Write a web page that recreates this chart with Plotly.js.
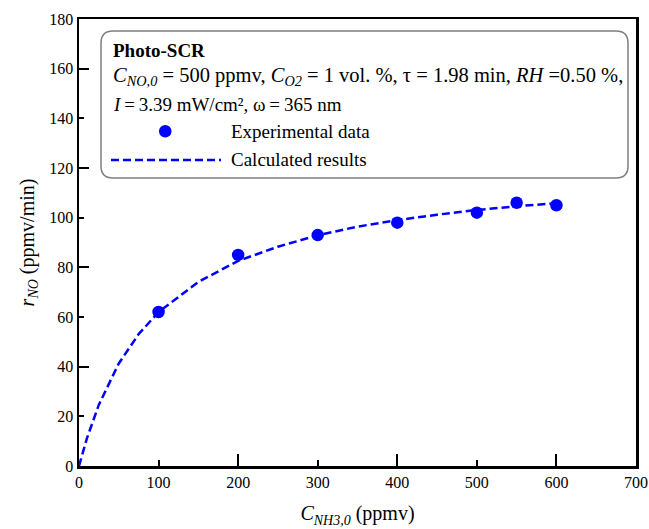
<!DOCTYPE html>
<html>
<head>
<meta charset="utf-8">
<script src="https://cdn.plot.ly/plotly-3.0.1.min.js"></script>
<style>html,body{margin:0;padding:0;background:#fff;}#chart{width:649px;height:529px;}</style>
</head>
<body>
<div id="chart"></div>
<script>
const expX = [100, 200, 300, 400, 500, 550, 600];
const expY = [62, 85, 93, 98, 102, 106, 105];
// Calculated results curve
const calcX = [0, 10, 25, 50, 75, 100, 150, 200, 250, 300, 350, 400, 450, 500, 550, 600];
const calcY = [0, 11.2, 24.7, 41.3, 53.1, 62, 74.1, 82.6, 88.3, 92.9, 96.4, 99.0, 101.2, 103.1, 104.6, 105.8];
const xTicks = [0, 100, 200, 300, 400, 500, 600, 700];
const yTicks = [0, 20, 40, 60, 80, 100, 120, 140, 160, 180];

const FONT = 'Liberation Serif';
const BLUE = '#0000ff';

const traces = [
  {x: calcX, y: calcY, mode: 'lines', xaxis: 'x2', yaxis: 'y2',
   line: {color: BLUE, width: 2.5, dash: '8px,4px'}, hoverinfo: 'skip', showlegend: false},
  {x: expX, y: expY, mode: 'markers',
   marker: {color: BLUE, size: 12.5}, showlegend: false}
];

const W = 649, H = 529;
const L = 79, R = 13, T = 19, B = 63;
const pw = W - L - R, ph = H - T - B;
function px(x) { return (x - L) / pw; }
function py(y) { return 1 - (y - T) / ph; }

// rounded legend box in paper coords
const bx0 = 101, bx1 = 628, by0 = 31, by1 = 178, rr = 12;
function P(x, y) { return px(x).toFixed(5) + ',' + py(y).toFixed(5); }
const boxPath = 'M' + P(bx0 + rr, by0) + ' L' + P(bx1 - rr, by0) + ' Q' + P(bx1, by0) + ' ' + P(bx1, by0 + rr) +
  ' L' + P(bx1, by1 - rr) + ' Q' + P(bx1, by1) + ' ' + P(bx1 - rr, by1) +
  ' L' + P(bx0 + rr, by1) + ' Q' + P(bx0, by1) + ' ' + P(bx0, by1 - rr) +
  ' L' + P(bx0, by0 + rr) + ' Q' + P(bx0, by0) + ' ' + P(bx0 + rr, by0) + ' Z';

const shapes = [
  {type: 'path', xref: 'paper', yref: 'paper', path: boxPath, line: {color: '#7f7f7f', width: 1.5}, fillcolor: 'rgba(0,0,0,0)'},
  {type: 'line', xref: 'paper', yref: 'paper', x0: px(111), x1: px(221), y0: py(160), y1: py(160), line: {color: BLUE, width: 2.5, dash: '8px,4px'}},
  {type: 'circle', xref: 'paper', yref: 'paper', x0: px(159), x1: px(171.5), y0: py(125), y1: py(137.5), line: {color: BLUE, width: 0}, fillcolor: BLUE}
];

function ann(text, x, y, opts) {
  return Object.assign({text: text, xref: 'paper', yref: 'paper', x: px(x), y: py(y), xanchor: 'left', yanchor: 'middle',
    showarrow: false, font: {family: FONT, size: 19, color: '#000'}}, opts || {});
}
const S = '\u2009';
const annotations = [
  ann('<b>Photo-SCR</b>', 111, 51),
  ann('<i>C</i><sub><i>NO,0</i></sub> = 500 ppmv, <i>C</i><sub><i>O2</i></sub> = 1 vol. %, τ = 1.98 min, <i>RH</i> =0.50 %,', 111, 77, {font: {family: FONT, size: 20.5, color: '#000'}}),
  ann('<i>I</i>' + S + '=' + S + '3.39 mW/cm², ω' + S + '=' + S + '365 nm', 111, 104),
  ann('Experimental data', 229, 131),
  ann('Calculated results', 229, 159)
];

const tf = {family: FONT, size: 16, color: '#000'};
const axBase = {showgrid: false, zeroline: false, ticks: 'inside', tickcolor: '#000', tickwidth: 2,
  linecolor: '#000', linewidth: 2.5, tickfont: tf};

const layout = {
  width: W, height: H,
  margin: {l: L, r: R, t: T, b: B},
  paper_bgcolor: '#fff', plot_bgcolor: '#fff',
  font: {family: FONT, color: '#000'},
  showlegend: false,
  xaxis: Object.assign({}, axBase, {range: [0, 700], tickvals: xTicks, ticktext: xTicks.map(String), ticklen: 6,
    showline: true, mirror: true, tickfont: tf,
    title: {text: '<i>C</i><sub><i>NH3,0</i></sub> (ppmv)', font: {family: FONT, size: 20, color: '#000'}, standoff: 17}}),
  yaxis: Object.assign({}, axBase, {range: [0, 180], tickvals: yTicks, ticktext: yTicks.map(String), ticklen: 5,
    showline: true, mirror: true, tickfont: tf,
    title: {text: '<i>r</i><sub><i>NO</i></sub> (ppmv/min)', font: {family: FONT, size: 20, color: '#000'}, standoff: 10}}),
  xaxis2: {overlaying: 'x', anchor: 'y2', range: [0, 700], dtick: 200, tick0: 0, ticks: 'inside', ticklen: 12, tickwidth: 2,
    tickcolor: '#000', showticklabels: false, showgrid: false, zeroline: false, showline: false, side: 'bottom'},
  yaxis2: {overlaying: 'y', anchor: 'x2', range: [0, 180], dtick: 40, tick0: 0, ticks: 'inside', ticklen: 10, tickwidth: 2,
    tickcolor: '#000', showticklabels: false, showgrid: false, zeroline: false, showline: false, side: 'left'},
  shapes: shapes,
  annotations: annotations
};

Plotly.newPlot('chart', traces, layout, {displayModeBar: false, staticPlot: true});
</script>
</body>
</html>
